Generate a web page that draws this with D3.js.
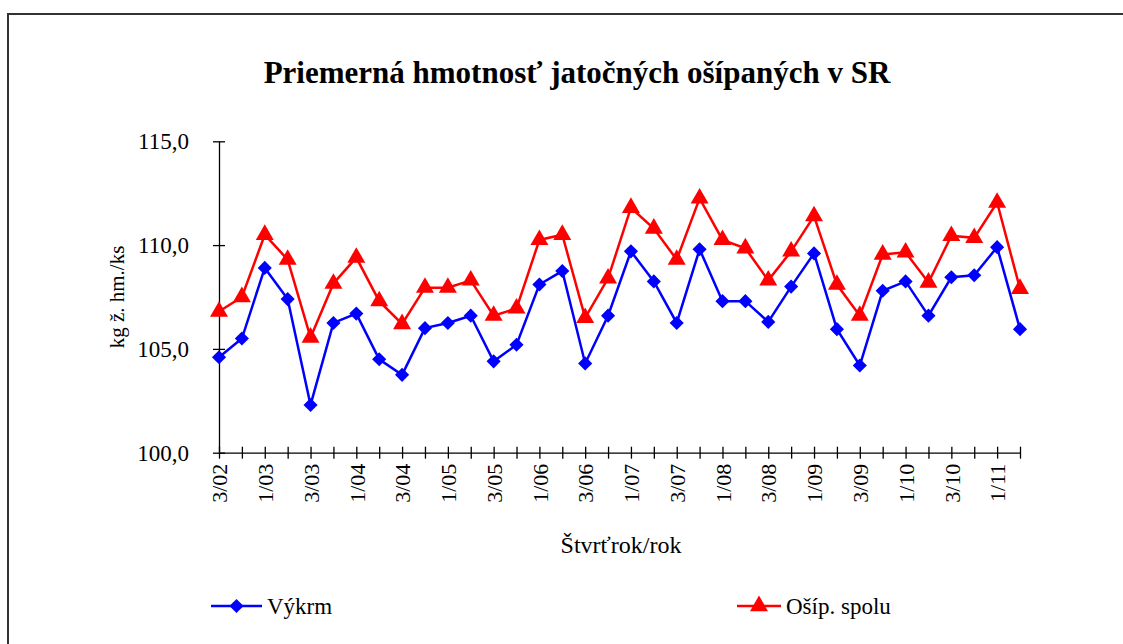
<!DOCTYPE html>
<meta charset='utf-8'>
<title>Priemerná hmotnosť jatočných ošípaných v SR</title>
<style>
html, body {
  margin: 0;
  padding: 0;
  background: #fff;
}
</style>
<script src='https://d3js.org/d3.v7.min.js'></script>
<body>
<svg id='chart' width='1123' height='644'></svg>
<script>
// Quarters 3/02 .. 2/11
var quarters = ['3/02','4/02','1/03','2/03','3/03','4/03','1/04','2/04','3/04','4/04',
  '1/05','2/05','3/05','4/05','1/06','2/06','3/06','4/06','1/07','2/07','3/07','4/07',
  '1/08','2/08','3/08','4/08','1/09','2/09','3/09','4/09','1/10','2/10','3/10','4/10',
  '1/11','2/11'];

var vykrm = [104.6, 105.5, 108.9, 107.4, 102.3, 106.25, 106.7, 104.5, 103.75, 106.0,
  106.25, 106.6, 104.4, 105.2, 108.1, 108.75, 104.3, 106.6, 109.7, 108.25, 106.25, 109.8,
  107.3, 107.3, 106.3, 108.0, 109.6, 105.95, 104.2, 107.8, 108.25, 106.6, 108.45, 108.55,
  109.9, 105.95];

var osipSpolu = [106.8, 107.5, 110.5, 109.3, 105.55, 108.15, 109.4, 107.3, 106.2, 107.95,
  107.95, 108.3, 106.6, 106.95, 110.25, 110.5, 106.5, 108.4, 111.8, 110.8, 109.3, 112.25,
  110.25, 109.85, 108.3, 109.7, 111.4, 108.1, 106.6, 109.55, 109.65, 108.2, 110.45, 110.35,
  112.05, 107.9];

var yTicks = [100, 105, 110, 115];

// Colors
var blue = '#0000ff';
var red = '#ff0000';
var axisColor = '#000';
var serif = "'Liberation Serif'";

// Plot area
var plotLeft = 219, plotRight = 1020, plotTop = 141.3, plotBottom = 452.7;

var svg = d3.select('#chart');

// Outer frame (only top and left edges are visible)
svg.append('path')
  .attr('d', 'M8,644 L8,14 L1123,14')
  .attr('fill', 'none')
  .attr('stroke', '#333')
  .attr('stroke-width', 2);

var x = d3.scalePoint().domain(quarters).range([plotLeft, plotRight]);
var y = d3.scaleLinear().domain([100, 115]).range([plotBottom, plotTop]);

// Title
svg.append('text')
  .attr('x', 577)
  .attr('y', 83)
  .attr('text-anchor', 'middle')
  .style('font-family', serif)
  .attr('font-size', 31)
  .attr('font-weight', 'bold')
  .text('Priemerná hmotnosť jatočných ošípaných v SR');

// Y axis
var yAxis = svg.append('g')
  .attr('transform', 'translate(' + plotLeft + ',0)')
  .call(d3.axisLeft(y).tickValues(yTicks).tickSizeInner(6).tickSizeOuter(0).tickPadding(24)
    .tickFormat(function (d) { return d3.format('.1f')(d).replace('.', ','); }));
yAxis.selectAll('line').attr('x2', 6).attr('x1', -6);
yAxis.selectAll('text').attr('font-size', 23).attr('fill', axisColor).style('font-family', serif);
yAxis.selectAll('path, line').attr('stroke', axisColor).attr('stroke-width', 1.3);

// X axis
var xAxis = svg.append('g')
  .attr('transform', 'translate(0,' + plotBottom + ')')
  .call(d3.axisBottom(x).tickSizeInner(6).tickSizeOuter(0)
    .tickFormat(function (d, i) { return i % 2 === 0 ? d : ''; }));
xAxis.selectAll('line').attr('y1', -6).attr('y2', 6);
xAxis.selectAll('path, line').attr('stroke', axisColor).attr('stroke-width', 1.3);
xAxis.selectAll('text')
  .attr('font-size', 22)
  .attr('fill', axisColor)
  .style('font-family', serif)
  .attr('text-anchor', 'end')
  .attr('dy', '0.35em')
  .attr('transform', 'translate(0,11) rotate(-90)')
  .attr('x', 0)
  .attr('y', 0);

// Axis titles
svg.append('text')
  .attr('transform', 'translate(124,297) rotate(-90)')
  .attr('text-anchor', 'middle')
  .style('font-family', serif)
  .attr('font-size', 21)
  .text('kg ž. hm./ks');

svg.append('text')
  .attr('x', 621)
  .attr('y', 553)
  .attr('text-anchor', 'middle')
  .style('font-family', serif)
  .attr('font-size', 24)
  .text('Štvrťrok/rok');

// Series
var diamond = d3.symbol().type(d3.symbolSquare).size(100);
var triangle = d3.symbol().type(d3.symbolTriangle).size(140);

function drawSeries(values, color, symbol, rotate) {
  var line = d3.line()
    .x(function (d, i) { return x(quarters[i]); })
    .y(function (d) { return y(d); });

  svg.append('path')
    .datum(values)
    .attr('d', line)
    .attr('fill', 'none')
    .attr('stroke', color)
    .attr('stroke-width', 2.5);

  svg.append('g').selectAll('path')
    .data(values)
    .enter()
      .append('path')
      .attr('d', symbol)
      .attr('fill', color)
      .attr('transform', function (d, i) {
        return 'translate(' + x(quarters[i]) + ',' + y(d) + ') rotate(' + rotate + ')';
      });
}

drawSeries(osipSpolu, red, triangle, 0);
drawSeries(vykrm, blue, diamond, 45);

// Legend
function legendItem(x0, len, label, color, symbol, rotate) {
  var g = svg.append('g').attr('transform', 'translate(' + x0 + ',606)');
  g.append('line')
    .attr('x1', 0).attr('x2', len)
    .attr('stroke', color)
    .attr('stroke-width', 2.5);
  g.append('path')
    .attr('d', symbol)
    .attr('fill', color)
    .attr('transform', 'translate(' + (len / 2) + ',0) rotate(' + rotate + ')');
  g.append('text')
    .attr('x', len + 5)
    .attr('y', 8)
    .style('font-family', serif)
    .attr('font-size', 23)
    .text(label);
}

legendItem(211, 51, 'Výkrm', blue, diamond, 45);
legendItem(737, 44, 'Ošíp. spolu', red, triangle, 0);
</script>
</body>
